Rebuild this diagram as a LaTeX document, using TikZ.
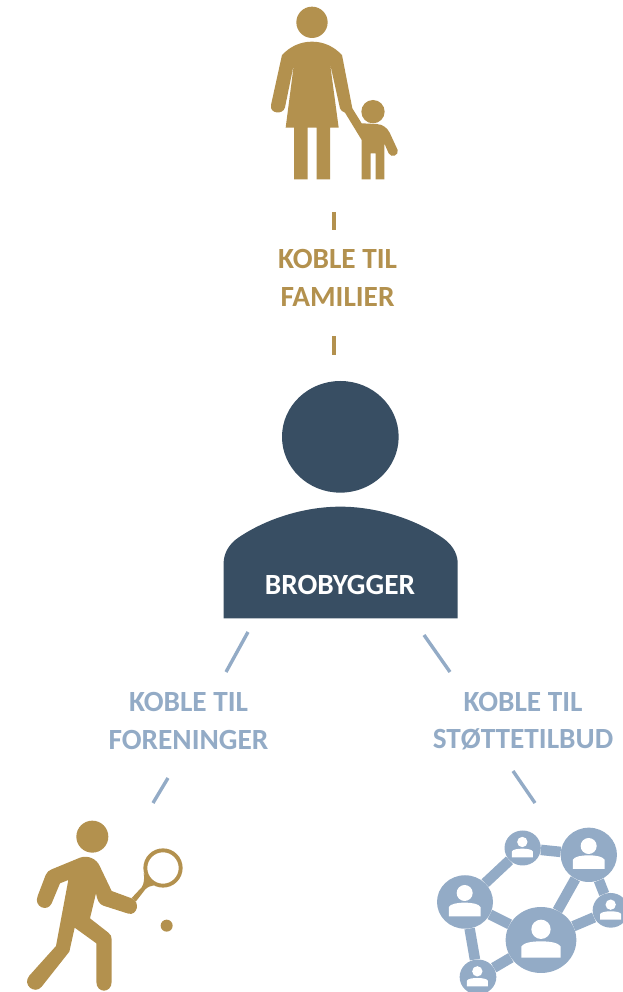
\documentclass[tikz,border=0pt]{standalone}
\usepackage{fontspec}
\usetikzlibrary{shapes.geometric}
\setmainfont{Carlito}
\definecolor{gold}{HTML}{B3914E}
\definecolor{navy}{HTML}{384E63}
\definecolor{steel}{HTML}{93ABC6}
\tikzset{
  goldfill/.style={fill=gold,draw=none},
  navyfill/.style={fill=navy,draw=none},
  steelfill/.style={fill=steel,draw=none},
  goldlink/.style={draw=gold,line width=3.4pt},
  bluelink/.style={draw=steel,line width=3.4pt},
  netlink/.style={draw=steel,line width=10.5pt},
  lbl/.style={font=\fontsize{29.3}{37.5}\selectfont\bfseries,align=center,inner sep=0pt},
  netnode/.style 2 args={ellipse,fill=steel,draw=none,inner sep=0pt,minimum width=#1,minimum height=#2},
}
% person glyph in a network circle: centre x, head y, head r, half width, top y, bottom y
\newcommand{\netperson}[6]{%
  \fill[white] (#1,#2) circle (#3);
  \fill[white] (#1-#4,#6) -- (#1-#4,#5+0.32*#6-0.32*#5) .. controls (#1-#4+0.1*#4,#5+0.1*#6-0.1*#5) and (#1-0.5*#4,#5) .. (#1,#5) .. controls (#1+0.5*#4,#5) and (#1+#4-0.1*#4,#5+0.1*#6-0.1*#5) .. (#1+#4,#5+0.32*#6-0.32*#5) -- (#1+#4,#6) -- cycle;
}
\begin{document}
\begin{tikzpicture}[x=1pt,y=-1pt]
\useasboundingbox (0,0) rectangle (623,992);
\clip (0,0) rectangle (623,992);

% mother and child
\begin{scope}[x=0.33333pt,y=-0.33333pt,shift={(750,0)}]
  \fill[gold] (186,67) circle (47);
  \fill[gold] (369,335) circle (35);
  \path[goldfill] (96,165) .. controls (120,140) and (150,125) .. (186,125)
    .. controls (222,125) and (252,140) .. (276,165)
    -- (307,325) -- (335,370) -- (380,372)
    .. controls (400,373) and (412,385) .. (419,398)
    -- (443,450) .. controls (447,465) and (425,476) .. (416,460)
    -- (403,430) -- (403,538) -- (377,538) -- (377,460) -- (362,460) -- (362,538) -- (335,538)
    -- (335,420) -- (285,338) .. controls (278,335) and (272,332) .. (270,325)
    -- (240,190) -- (266,383) -- (240,383) -- (240,538) -- (200,538) -- (200,383)
    -- (173,383) -- (173,538) -- (132,538) -- (132,383) -- (107,383) -- (132,190)
    -- (105,322) .. controls (100,345) and (58,342) .. (63,315) -- cycle;
\end{scope}

% connector: families
\coordinate (f1) at (334,212);
\coordinate (f2) at (334,230);
\coordinate (f3) at (334,336);
\coordinate (f4) at (334,355);
\draw[goldlink] (f1) -- (f2);
\draw[goldlink] (f3) -- (f4);
\node[lbl,text=gold] (familier) at (337.5,278) {KOBLE TIL\\FAMILIER};

% bridge builder
\begin{scope}[x=0.33333pt,y=-0.33333pt,shift={(630,1110)}]
  \fill[navy] (391,200.5) ellipse (175 and 167.5);
  \path[navyfill] (41,745) -- (41,575)
    .. controls (43,545) and (60,520) .. (85,503)
    .. controls (170,445) and (285,410) .. (391,410)
    .. controls (497,410) and (612,445) .. (697,503)
    .. controls (722,520) and (741,545) .. (743,575)
    -- (743,745) -- cycle;
\end{scope}
\node[font=\fontsize{29.3}{35}\selectfont\bfseries,text=white,inner sep=0pt] (bro) at (340,584.5) {BROBYGGER};

% connectors: associations, support services
\coordinate (a1) at (248,632);
\coordinate (a2) at (226,672);
\coordinate (a3) at (168,778);
\coordinate (a4) at (153,803);
\coordinate (s1) at (424,635);
\coordinate (s2) at (450,672);
\coordinate (s3) at (513,771);
\coordinate (s4) at (535,803);
\draw[bluelink] (a1) -- (a2);
\draw[bluelink] (a3) -- (a4);
\draw[bluelink] (s1) -- (s2);
\draw[bluelink] (s3) -- (s4);
\node[lbl,text=steel] (foreninger) at (188.5,721) {KOBLE TIL\\FORENINGER};
\node[lbl,text=steel] (stotte) at (523,721) {KOBLE TIL\\STØTTETILBUD};

% tennis player
\begin{scope}[x=0.33333pt,y=-0.33333pt,shift={(0,2430)}]
  \fill[gold] (277,80) circle (48);
  \fill[gold] (500,347) circle (18);
  \draw[gold,line width=3.9pt] (489,174) circle (53);
  \path[goldfill] (431,190) .. controls (434,205) and (432,222) .. (425,232)
    -- (395,264) -- (408,274) -- (436,238) .. controls (444,230) and (452,228) .. (462,226) -- cycle;
  \path[goldfill] (155,178) -- (240,143)
    .. controls (262,135) and (290,145) .. (300,170)
    -- (335,243) -- (395,265)
    .. controls (422,275) and (412,318) .. (385,311)
    -- (310,287) .. controls (298,283) and (291,270) .. (288,250)
    -- (270,325) -- (325,368) .. controls (332,373) and (335,380) .. (335,388)
    -- (335,515) .. controls (335,551) and (289,551) .. (289,515)
    -- (289,400) -- (224,353) -- (208,425)
    -- (125,530) .. controls (105,555) and (65,525) .. (88,497)
    -- (168,408) -- (205,210) -- (180,220) -- (155,280)
    .. controls (142,308) and (100,290) .. (113,258)
    -- (137,195) .. controls (141,186) and (147,181) .. (155,178) -- cycle;
\end{scope}

% network
\begin{scope}[x=0.33333pt,y=-0.33333pt,shift={(1269,2436)}]
  \node[netnode={56.3pt}{54.3pt}] (A) at (497.5,128.5) {};
  \node[netnode={36.3pt}{35pt}] (B) at (299,108) {};
  \node[netnode={56pt}{53.5pt}] (C) at (126,270) {};
  \node[netnode={70.7pt}{66pt}] (D) at (354,384) {};
  \node[netnode={36pt}{34.7pt}] (E) at (563,295) {};
  \node[netnode={36.7pt}{35pt}] (F) at (165,495) {};
  \draw[netlink] (B) -- (A);
  \draw[netlink] (B) -- (C);
  \draw[netlink] (C) -- (D);
  \draw[netlink] (C) -- (F);
  \draw[netlink] (F) -- (D);
  \draw[netlink] (D) -- (A);
  \draw[netlink] (A) -- (E);
  \draw[netlink] (D) -- (E);
  \netperson{497}{102}{24}{47.5}{130}{171}
  \netperson{298}{90}{15.5}{31.5}{110}{136}
  \netperson{125}{243}{24}{47.5}{272}{313}
  \netperson{354}{352}{29}{59}{388}{437}
  \netperson{563}{278}{15.5}{31.5}{298}{323}
  \netperson{163}{478}{15.5}{31.5}{498}{523}
\end{scope}
\end{tikzpicture}
\end{document}
